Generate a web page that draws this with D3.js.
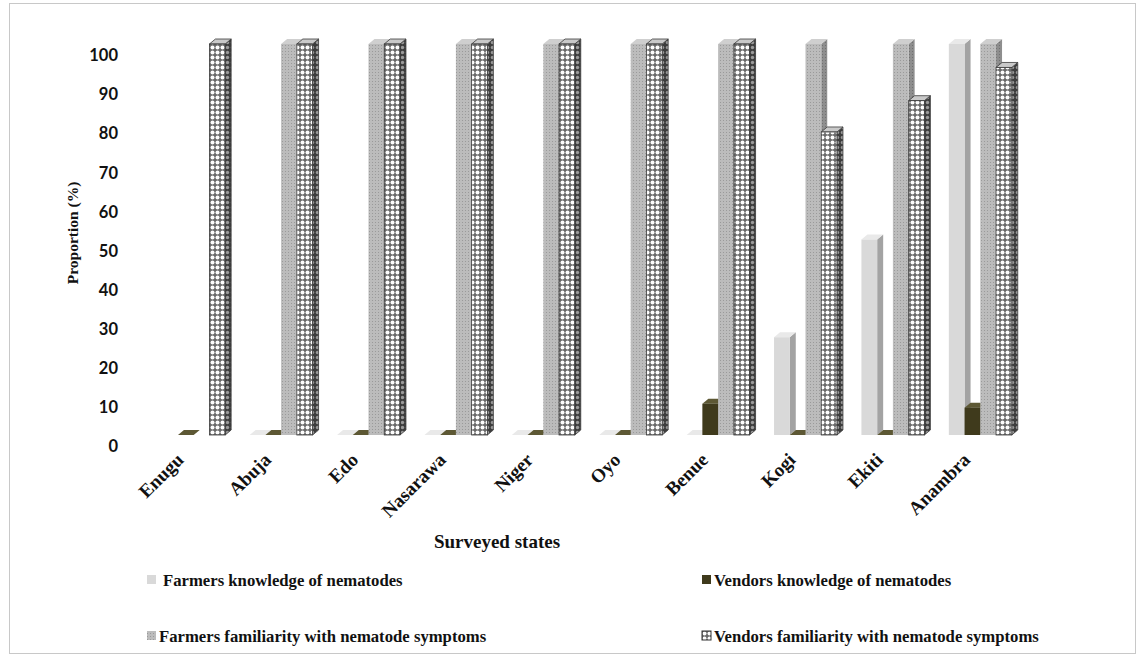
<!DOCTYPE html>
<html>
<head>
<meta charset="utf-8">
<script src="https://cdn.jsdelivr.net/npm/d3@7"></script>
<style>
  body { margin: 0; background: #fff; }
  svg { display: block; }
  .serif { font-family: "Liberation Serif", "Times New Roman", serif; font-weight: bold; fill: #111; }
  .ytick text { font-family: Lato, "Open Sans", sans-serif; font-weight: bold; font-size: 16.5px; fill: #111; }
</style>
</head>
<body>
<div id="chart"></div>
<script>
// values (null = no bar drawn)
const states = ["Enugu", "Abuja", "Edo", "Nasarawa", "Niger", "Oyo", "Benue", "Kogi", "Ekiti", "Anambra"];
const farmersKnowledge   = [null, 0, 0, 0, 0, 0, 0, 25, 50, 100];
const vendorsKnowledge   = [0, 0, 0, 0, 0, 0, 8, 0, 0, 7];
const farmersFamiliarity = [null, 100, 100, 100, 100, 100, 100, 100, 100, 100];
const vendorsFamiliarity = [100, 100, 100, 100, 100, 100, 100, 77.5, 85.5, 94];
const seriesNames = [
  "Farmers knowledge of nematodes",
  "Vendors knowledge of nematodes",
  "Farmers familiarity with nematode symptoms",
  "Vendors familiarity with nematode symptoms"
];
const yTicks = [0, 10, 20, 30, 40, 50, 60, 70, 80, 90, 100];

const W = 1142, H = 660;
const depth = { dx: 6, dy: 5 };

const svg = d3.select("#chart").append("svg")
  .attr("width", W).attr("height", H)
  .attr("viewBox", [0, 0, W, H]);

// frame round the whole picture
svg.append("rect")
  .attr("x", 9.5).attr("y", 3.5)
  .attr("width", 1126).attr("height", 650)
  .attr("fill", "none").attr("stroke", "#c8c8c8");

// patterns
const defs = svg.append("defs");
function dotPattern(id, bg, dot, size, r) {
  const p = defs.append("pattern").attr("id", id)
    .attr("patternUnits", "userSpaceOnUse")
    .attr("width", size).attr("height", size);
  p.append("rect").attr("width", size).attr("height", size).attr("fill", bg);
  p.append("circle").attr("cx", size / 2).attr("cy", size / 2).attr("r", r).attr("fill", dot);
  return `url(#${id})`;
}
function finePattern(id, bg, dot) {
  const p = defs.append("pattern").attr("id", id)
    .attr("patternUnits", "userSpaceOnUse")
    .attr("width", 3).attr("height", 3);
  p.append("rect").attr("width", 3).attr("height", 3).attr("fill", bg);
  p.append("rect").attr("width", 1).attr("height", 1).attr("fill", dot);
  return `url(#${id})`;
}

const styles = [
  { front: "#d9d9d9", side: "#a3a3a3", top: "#e9e9e9", stroke: "none" },
  { front: "#3f3a1c", side: "#2a2611", top: "#5d5834", stroke: "none" },
  { front: finePattern("ffF", "#bcbcbc", "#9a9a9a"), side: finePattern("ffS", "#8e8e8e", "#707070"),
    top: "#cfcfcf", stroke: "none" },
  { front: dotPattern("vfF", "#6a6a6a", "#fdfdfd", 5, 2.0), side: dotPattern("vfS", "#3d3d3d", "#9a9a9a", 5, 1.7),
    top: "#c9c9c9", stroke: "#3a3a3a" }
];

// scales
const x = d3.scaleBand().domain(states).range([150, 1024]).paddingInner(0.28).paddingOuter(0.14);
const xs = d3.scaleBand().domain(d3.range(4)).range([0, x.bandwidth()]);
const y = d3.scaleLinear().domain([0, 100]).range([435, 44]);
// the value labels sit in front of the floor in the 3-D view, a bit lower than the bars
const yLabel = d3.scaleLinear().domain([0, 100]).range([446, 55]);

// y axis labels
svg.append("g")
  .attr("class", "ytick")
  .attr("transform", "translate(118,0)")
  .call(d3.axisLeft(yLabel).tickValues(yTicks).tickSize(0).tickPadding(0).tickFormat(d3.format("d")))
  .call(g => g.select(".domain").remove());
svg.selectAll(".ytick text").attr("dy", "0.35em");

// bars
const seriesValues = [farmersKnowledge, vendorsKnowledge, farmersFamiliarity, vendorsFamiliarity];
const bars = [];
states.forEach((s, i) => {
  seriesValues.forEach((vals, k) => {
    if (vals[i] != null) bars.push({ state: s, k, v: vals[i] });
  });
});

const barG = svg.append("g").selectAll("g")
  .data(bars)
  .join("g");

barG.each(function (d) {
  const g = d3.select(this);
  const st = styles[d.k];
  const x0 = x(d.state) + xs(d.k);
  const w = xs.bandwidth();
  const yt = y(d.v), yb = y(0);
  const { dx, dy } = depth;
  g.append("polygon")
    .attr("points", [[x0 + w, yt], [x0 + w + dx, yt - dy], [x0 + w + dx, yb - dy], [x0 + w, yb]].join(" "))
    .attr("fill", st.side).attr("stroke", st.stroke).attr("stroke-width", 0.8);
  g.append("polygon")
    .attr("points", [[x0, yt], [x0 + dx, yt - dy], [x0 + w + dx, yt - dy], [x0 + w, yt]].join(" "))
    .attr("fill", st.top).attr("stroke", st.stroke).attr("stroke-width", 0.8);
  if (yb - yt > 0) {
    g.append("rect")
      .attr("x", x0).attr("y", yt)
      .attr("width", w).attr("height", yb - yt)
      .attr("fill", st.front).attr("stroke", st.stroke).attr("stroke-width", 0.8);
  }
});

// category labels
svg.append("g").selectAll("text")
  .data(states)
  .join("text")
  .attr("class", "serif")
  .attr("font-size", 19)
  .attr("text-anchor", "end")
  .attr("transform", d => `translate(${x(d) + x.bandwidth() / 2 - 9},${461}) rotate(-45)`)
  .text(d => d);

// axis titles
svg.append("text")
  .attr("class", "serif")
  .attr("font-size", 19)
  .attr("text-anchor", "middle")
  .attr("x", 497).attr("y", 548)
  .text("Surveyed states");

svg.append("text")
  .attr("class", "serif")
  .attr("font-size", 15.5)
  .attr("text-anchor", "middle")
  .attr("transform", "translate(78,233) rotate(-90)")
  .text("Proportion (%)");

// legend
const legendPos = [[147, 580], [702, 580], [147, 636], [702, 636]];
const legend = svg.append("g").selectAll("g")
  .data(seriesNames)
  .join("g")
  .attr("transform", (d, i) => `translate(${legendPos[i][0]},${legendPos[i][1]})`);
legend.append("rect")
  .attr("x", 0).attr("y", -5)
  .attr("width", 9).attr("height", 9)
  .attr("fill", (d, i) => styles[i].front)
  .attr("stroke", (d, i) => i === 3 ? "#333" : "none");
legend.append("text")
  .attr("class", "serif")
  .attr("font-size", 16.7)
  .attr("x", (d, i) => i === 0 ? 16 : 12)
  .attr("dy", "0.35em")
  .text(d => d);
</script>
</body>
</html>
